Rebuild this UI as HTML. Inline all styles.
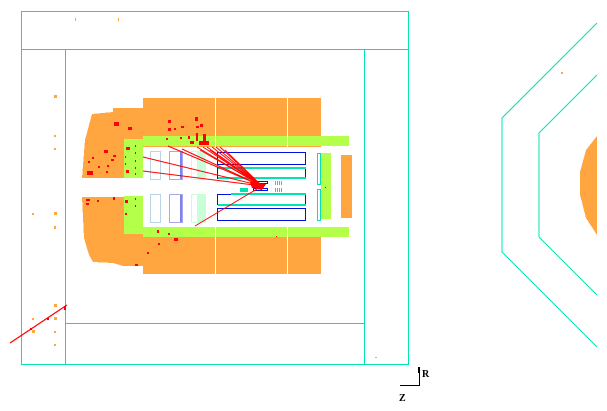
<!DOCTYPE html>
<html><head><style>
html,body{margin:0;padding:0;background:#fff;width:607px;height:411px;overflow:hidden}
svg{display:block}
</style></head><body>
<svg width="607" height="411" viewBox="0 0 607 411" xmlns="http://www.w3.org/2000/svg" shape-rendering="crispEdges">
<g fill="none" stroke="#00e5b0" stroke-width="1">
<rect x="21.5" y="11.5" width="387" height="353"/>
<line x1="21" y1="49.5" x2="408" y2="49.5"/>
<line x1="65.5" y1="49" x2="65.5" y2="365"/>
<line x1="364.5" y1="49" x2="364.5" y2="365"/>
<line x1="65" y1="323.5" x2="364" y2="323.5"/>
<polyline points="597,23 502,118 502,252 597,347" shape-rendering="auto"/>
<polyline points="597,75 539,133 539,237 597,295" shape-rendering="auto"/>
</g>
<polygon points="597,136 586,150 580,172 580,195 586,218 597,235" fill="#ffa640"/>
<rect x="561" y="72" width="2" height="2" fill="#ffa640"/>
<g fill="#ffa640">
<rect x="143" y="98" width="178" height="176"/>
<polygon points="143,108 113,108 113,112 92,114 89,125 85,140 82,178 143,178"/>
<polygon points="143,197 82,197 84,238 89,255 93,262 113,263 123,266 143,266"/>
</g>
<g fill="#fff">
<rect x="215" y="98" width="1" height="176"/>
<rect x="287" y="98" width="1" height="176"/>
<rect x="140" y="147" width="209" height="80"/>
</g>
<rect x="341" y="155" width="11" height="63" fill="#ffa640"/>
<g fill="#b4ff4a">
<rect x="143" y="136" width="206" height="10"/>
<rect x="143" y="227" width="206" height="10"/>
<rect x="124" y="139" width="19" height="39"/>
<rect x="124" y="196" width="19" height="38"/>
<rect x="321" y="153" width="10" height="66"/>
</g>
<g fill="#fff"><rect x="215" y="136" width="1" height="10"/><rect x="287" y="136" width="1" height="10"/><rect x="215" y="227" width="1" height="10"/><rect x="287" y="227" width="1" height="10"/></g>
<g fill="none" stroke-width="1">
<rect x="150.5" y="151.5" width="10" height="28" stroke="#b8d4e6"/>
<rect x="150.5" y="194.5" width="10" height="28" stroke="#b8d4e6"/>
<rect x="169.5" y="151.5" width="13" height="28" stroke="#a8a8f0"/>
<rect x="169.5" y="194.5" width="13" height="28" stroke="#a8a8f0"/>
<rect x="191.5" y="151.5" width="14" height="28" stroke="#c8ffd8"/>
<rect x="191.5" y="194.5" width="14" height="28" stroke="#c8ffd8"/>
</g>
<rect x="197" y="152" width="9" height="27" fill="#c8ffd8"/>
<rect x="197" y="195" width="9" height="27" fill="#c8ffd8"/>
<rect x="180" y="152" width="2" height="27" fill="#8080f0"/>
<rect x="180" y="195" width="2" height="27" fill="#8080f0"/>
<g fill="none" stroke="#0010e0" stroke-width="1">
<rect x="217.5" y="152.5" width="88" height="12"/>
<rect x="217.5" y="167.5" width="88" height="11"/>
<rect x="217.5" y="194.5" width="88" height="10"/>
<rect x="217.5" y="208.5" width="88" height="12"/>
<rect x="253.5" y="181.5" width="14" height="2"/>
<rect x="253.5" y="188.5" width="14" height="2"/>
</g>
<g fill="#00e5b0">
<rect x="218" y="167" width="88" height="2"/>
<rect x="218" y="177" width="88" height="2"/>
<rect x="231" y="193" width="75" height="2"/>
<rect x="218" y="204" width="88" height="2"/>
<rect x="240" y="188" width="8" height="4"/>
<rect x="275" y="181" width="1" height="4"/><rect x="277" y="181" width="1" height="4"/><rect x="279" y="181" width="1" height="4"/><rect x="281" y="181" width="1" height="4"/>
<rect x="275" y="188" width="1" height="4"/><rect x="277" y="188" width="1" height="4"/><rect x="279" y="188" width="1" height="4"/><rect x="281" y="188" width="1" height="4"/>
</g>
<g fill="none" stroke="#00e5b0"><rect x="317.5" y="153.5" width="3" height="31"/><rect x="317.5" y="189.5" width="3" height="31"/></g>
<g stroke="#ff0000" stroke-width="1" shape-rendering="auto" fill="none">
<line x1="262" y1="186" x2="143" y2="157"/>
<line x1="262" y1="186" x2="143" y2="171"/>
<line x1="262" y1="186" x2="182" y2="149"/>
<line x1="262" y1="186" x2="195" y2="226"/>
<line x1="262" y1="186" x2="168" y2="146"/>
<line x1="262" y1="186" x2="197" y2="147"/>
<line x1="262" y1="186" x2="203" y2="147"/>
<line x1="262" y1="186" x2="207" y2="147"/>
<line x1="262" y1="186" x2="212" y2="147"/>
<line x1="262" y1="186" x2="216" y2="147"/>
<line x1="262" y1="186" x2="220" y2="147"/>
<line x1="262" y1="186" x2="225" y2="150"/>
<line x1="262" y1="186" x2="210" y2="150"/>
<line x1="262" y1="186" x2="200" y2="150"/>
<line x1="10" y1="343" x2="67" y2="305" stroke-width="1.2"/>
</g>
<polygon points="250,182 266,184 262,190 252,188" fill="#ff0000"/>
<g fill="#ff0000">
<rect x="126" y="147" width="4" height="3"/><rect x="114" y="122" width="5" height="4"/><rect x="128" y="127" width="4" height="3"/>
<rect x="168" y="120" width="3" height="3"/><rect x="195" y="117" width="3" height="4"/><rect x="181" y="126" width="3" height="2"/>
<rect x="196" y="126" width="3" height="2"/><rect x="200" y="124" width="3" height="3"/><rect x="203" y="134" width="3" height="8"/>
<rect x="196" y="133" width="2" height="8"/><rect x="188" y="136" width="2" height="3"/><rect x="180" y="137" width="2" height="2"/>
<rect x="199" y="141" width="10" height="4"/><rect x="190" y="141" width="4" height="3"/><rect x="166" y="138" width="2" height="2"/>
<rect x="168" y="128" width="3" height="3"/><rect x="174" y="128" width="2" height="2"/>
<rect x="87" y="171" width="6" height="4"/><rect x="104" y="150" width="4" height="3"/><rect x="113" y="155" width="3" height="2"/>
<rect x="111" y="159" width="3" height="2"/><rect x="88" y="161" width="2" height="2"/><rect x="98" y="166" width="2" height="2"/>
<rect x="107" y="165" width="2" height="2"/><rect x="92" y="157" width="2" height="2"/><rect x="106" y="171" width="2" height="2"/>
<rect x="126" y="170" width="3" height="3"/>
<rect x="135" y="145" width="1" height="2"/><rect x="135" y="152" width="1" height="2"/><rect x="135" y="160" width="1" height="2"/><rect x="135" y="167" width="1" height="2"/><rect x="135" y="173" width="1" height="2"/>
<rect x="125" y="156" width="1" height="2"/><rect x="125" y="163" width="1" height="2"/>
<rect x="86" y="199" width="4" height="2"/><rect x="86" y="203" width="3" height="2"/><rect x="97" y="200" width="2" height="2"/><rect x="113" y="197" width="2" height="3"/>
<rect x="125" y="200" width="3" height="3"/><rect x="135" y="198" width="1" height="2"/><rect x="135" y="205" width="1" height="2"/><rect x="125" y="213" width="2" height="2"/>
<rect x="174" y="238" width="4" height="3"/><rect x="157" y="230" width="2" height="3"/><rect x="158" y="243" width="2" height="2"/>
<rect x="147" y="252" width="2" height="2"/><rect x="135" y="264" width="3" height="2"/><rect x="168" y="233" width="2" height="2"/>
<rect x="276" y="236" width="1" height="1"/><rect x="325" y="187" width="1" height="1"/>
<rect x="30" y="328" width="2" height="2"/><rect x="47" y="318" width="2" height="2"/><rect x="64" y="306" width="2" height="4"/>
</g>
<g fill="#ffa640">
<rect x="54" y="95" width="3" height="3"/><rect x="54" y="135" width="2" height="2"/><rect x="54" y="148" width="2" height="2"/>
<rect x="32" y="213" width="2" height="2"/><rect x="54" y="212" width="3" height="3"/><rect x="54" y="226" width="2" height="3"/>
<rect x="54" y="304" width="3" height="3"/><rect x="32" y="318" width="2" height="2"/><rect x="54" y="317" width="3" height="3"/>
<rect x="32" y="330" width="3" height="3"/><rect x="54" y="331" width="2" height="2"/><rect x="54" y="344" width="2" height="2"/>
<rect x="75" y="18" width="1" height="3"/><rect x="118" y="18" width="1" height="3"/><rect x="375" y="357" width="2" height="1"/>
</g>
<g stroke="#000" stroke-width="1" fill="none">
<line x1="419.5" y1="367" x2="419.5" y2="386"/>
<line x1="400" y1="385.5" x2="420" y2="385.5"/>
<line x1="418.5" y1="367" x2="418.5" y2="373"/>
</g>
<text x="422" y="377" font-family="Liberation Serif, serif" font-size="10" font-weight="bold" fill="#000">R</text>
<text x="399" y="401" font-family="Liberation Serif, serif" font-size="10" font-weight="bold" fill="#000">Z</text>
</svg>
</body></html>
